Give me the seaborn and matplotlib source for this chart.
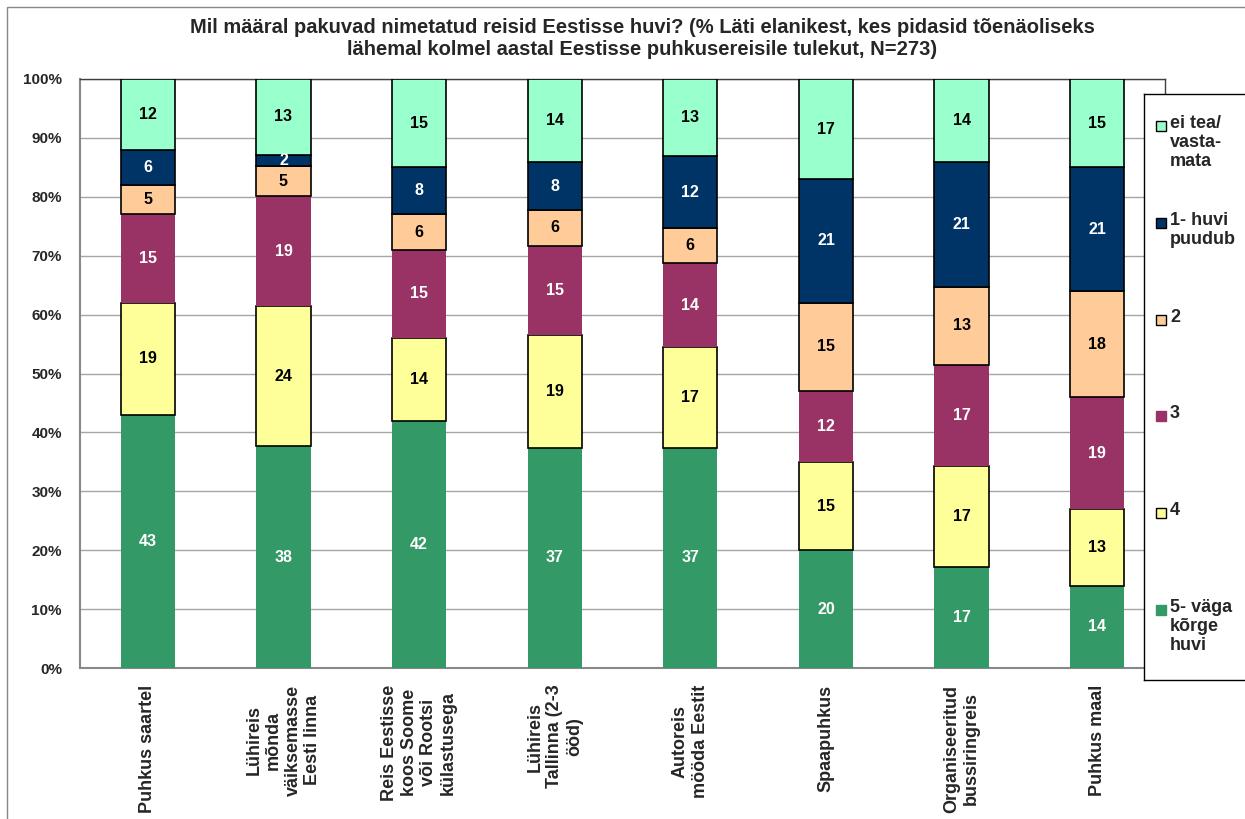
import numpy as np
import pandas as pd
import matplotlib
matplotlib.use("Agg")
import matplotlib.pyplot as plt
import seaborn as sns

# data
categories = ["Puhkus saartel",
              "Lühireis\nmõnda\nväiksemasse\nEesti linna",
              "Reis Eestisse\nkoos Soome\nvõi Rootsi\nkülastusega",
              "Lühireis\nTallinna (2-3\nööd)",
              "Autoreis\nmööda Eestit",
              "Spaapuhkus",
              "Organiseeritud\nbussiringreis",
              "Puhkus maal"]
series_names = ["5- väga\nkõrge\nhuvi", "4", "3", "2", "1- huvi\npuudub", "ei tea/\nvasta-\nmata"]
v5 = [43, 38, 42, 37, 37, 20, 17, 14]
v4 = [19, 24, 14, 19, 17, 15, 17, 13]
v3 = [15, 19, 15, 15, 14, 12, 17, 19]
v2 = [5, 5, 6, 6, 6, 15, 13, 18]
v1 = [6, 2, 8, 8, 12, 21, 21, 21]
v0 = [12, 13, 15, 14, 13, 17, 14, 15]
colors = ["#339966", "#FFFF99", "#993366", "#FFCC99", "#003366", "#99FFCC"]
edges = ["none", "black", "none", "black", "black", "black"]
text_colors = ["white", "black", "white", "black", "white", "black"]

title = ("Mil määral pakuvad nimetatud reisid Eestisse huvi? (% Läti elanikest, kes pidasid tõenäoliseks\n"
         "lähemal kolmel aastal Eestisse puhkusereisile tulekut, N=273)")

sns.set_style("white")
plt.rcParams['font.family'] = ['Liberation Sans', 'DejaVu Sans']
plt.rcParams['font.weight'] = 'bold'

all_vals = np.array([v5, v4, v3, v2, v1, v0], dtype=float)
totals = all_vals.sum(axis=0)
shares = all_vals / totals * 100

fig = plt.figure(figsize=(12.45, 8.19), dpi=100)
ax = fig.add_axes([80 / 1245, 1 - 668 / 819, 1085 / 1245, 589 / 819])

bottom = np.zeros(len(categories))
for i, name in enumerate(series_names):
    df = pd.DataFrame({'Trip': categories, 'Share': shares[i]})
    sns.barplot(data=df, x='Trip', y='Share', bottom=bottom, color=colors[i],
                saturation=1, width=0.4, errorbar=None, edgecolor=edges[i],
                linewidth=1.2, ax=ax, zorder=3)
    ax.bar_label(ax.containers[-1], labels=[str(int(v)) for v in all_vals[i]],
                 label_type='center', color=text_colors[i], fontsize=11.5,
                 fontweight='bold', zorder=4)
    bottom = bottom + shares[i]

ax.set_xlim(-0.5, len(categories) - 0.5)
ax.set_ylim(0, 100)
ax.tick_params(axis='x', which='major', length=0, pad=12)
ax.tick_params(axis='x', which='minor', length=5, color='#888888', width=1)
ax.tick_params(axis='y', length=5, color='#888888', width=1, pad=8)
ax.set_yticks(range(0, 101, 10))
ax.set_yticklabels([f"{t}%" for t in range(0, 101, 10)], fontsize=11, fontweight='bold')
ax.set_xticks(range(len(categories)))
ax.set_xticklabels(categories, fontsize=13, fontweight='bold')
for lab in ax.get_xticklabels():
    lab.set_rotation(90)
    lab.set_rotation_mode('default')
    lab.set_horizontalalignment('center')
    lab.set_verticalalignment('top')
    lab.set_multialignment('center')
ax.set_xticks(np.arange(-0.5, len(categories), 1), minor=True)
ax.set_xlabel("")
ax.set_ylabel("")
ax.yaxis.grid(True, color='#a6a6a6', linewidth=1, zorder=0)
ax.set_axisbelow(True)
for s in ['left', 'bottom']:
    ax.spines[s].set_color('#888888')
    ax.spines[s].set_linewidth(1.5)
for s in ['top', 'right']:
    ax.spines[s].set_color('#404040')
    ax.spines[s].set_linewidth(1)

fig.text(642 / 1245, 1 - 38.5 / 819, title, ha='center', va='center',
         fontsize=14.5, fontweight='bold', linespacing=1.15)

# chart area border (cropped on right and bottom)
fig.add_artist(plt.Rectangle((7 / 1245, -0.1), 1.2, 1.1 - 7 / 819, transform=fig.transFigure,
                             fill=False, edgecolor='#888888', linewidth=1))

# legend box, entries evenly spaced like the original
lax = fig.add_axes([1144 / 1245, 1 - 680 / 819, 110 / 1245, 586 / 819], zorder=5)
lax.set_xlim(0, 110)
lax.set_ylim(586, 0)
lax.set_xticks([])
lax.set_yticks([])
lax.set_facecolor('white')
for s in lax.spines.values():
    s.set_color('black')
    s.set_linewidth(1)
order = list(range(len(series_names)))[::-1]
for k, i in enumerate(order):
    yc = 32 + 96.8 * k
    lax.add_patch(plt.Rectangle((12, yc - 5), 10, 10, facecolor=colors[i],
                                edgecolor='black' if edges[i] != 'none' else colors[i], linewidth=1))
    lax.text(26, yc - 11, series_names[i], ha='left', va='top', fontsize=13,
             fontweight='bold', linespacing=1.15)

fig.savefig("out.png", dpi=100)
